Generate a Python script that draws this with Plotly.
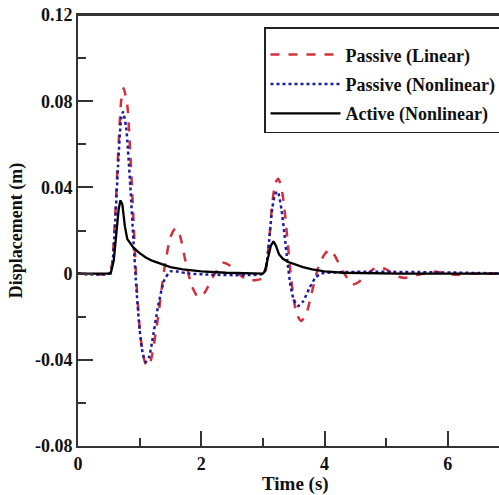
import plotly.graph_objects as go

# Passive (Linear)
t_lin = [0, 0.5, 0.55, 0.6, 0.65, 0.7, 0.74, 0.8, 0.85, 0.9, 0.95, 1.0, 1.05, 1.1, 1.15, 1.2, 1.3, 1.4, 1.5, 1.58, 1.65,
         1.75, 1.85, 1.95, 2.05, 2.2, 2.35, 2.45, 2.6, 2.75, 2.9, 3.0, 3.05, 3.1, 3.15, 3.2, 3.25, 3.3, 3.35, 3.4, 3.45,
         3.5, 3.55, 3.62, 3.7, 3.8, 3.9, 4.0, 4.08, 4.15, 4.3, 4.45, 4.55, 4.7, 4.85, 5.0, 5.15, 5.3, 5.45, 5.6, 5.75,
         5.9, 6.1, 6.4, 7.0]
d_lin = [0, 0, 0.004, 0.025, 0.055, 0.080, 0.086, 0.078, 0.055, 0.025, -0.005, -0.025, -0.037, -0.042, -0.043, -0.038,
         -0.020, 0.002, 0.017, 0.021, 0.018, 0.005, -0.006, -0.011, -0.009, -0.001, 0.005, 0.004, 0.000, -0.003, -0.003,
         -0.002, 0.002, 0.015, 0.032, 0.042, 0.044, 0.040, 0.030, 0.015, 0.000, -0.012, -0.019, -0.022, -0.019, -0.008,
         0.003, 0.009, 0.011, 0.009, 0.001, -0.005, -0.004, 0.000, 0.003, 0.002, -0.001, -0.002, -0.001, 0.000, 0.001,
         0.0005, -0.0005, 0.0, 0.0]

# Passive (Nonlinear)
t_nl = [0, 0.5, 0.55, 0.6, 0.65, 0.7, 0.73, 0.78, 0.85, 0.9, 0.95, 1.0, 1.05, 1.1, 1.15, 1.2, 1.3, 1.4, 1.5, 1.6, 1.8,
        3.0, 3.05, 3.1, 3.15, 3.2, 3.24, 3.3, 3.35, 3.4, 3.45, 3.5, 3.57, 3.65, 3.75, 3.85, 3.95, 7.0]
d_nl = [0, 0, 0.003, 0.022, 0.050, 0.072, 0.075, 0.068, 0.040, 0.015, -0.008, -0.026, -0.037, -0.041, -0.039, -0.032,
        -0.015, -0.003, 0.001, 0.001, 0.0, 0.0, 0.003, 0.015, 0.030, 0.037, 0.038, 0.030, 0.018, 0.005, -0.006, -0.012,
        -0.015, -0.013, -0.007, -0.002, 0.0, 0.0]

# Active (Nonlinear)
t_act = [0, 0.53, 0.58, 0.62, 0.66, 0.69, 0.72, 0.76, 0.8, 0.9, 1.0, 1.1, 1.2, 1.35, 1.5, 1.7, 2.0, 2.4, 2.8, 3.0,
         3.03, 3.08, 3.13, 3.17, 3.21, 3.26, 3.32, 3.4, 3.5, 3.65, 3.8, 4.0, 4.3, 4.8, 5.2, 7.0]
d_act = [0, 0, 0.006, 0.018, 0.030, 0.034, 0.032, 0.022, 0.016, 0.012, 0.0095, 0.0075, 0.006, 0.0045, 0.003, 0.002,
         0.001, 0.0004, 0.0001, 0.0, 0.001, 0.007, 0.013, 0.015, 0.013, 0.009, 0.007, 0.0055, 0.0045, 0.003, 0.002,
         0.001, 0.0004, 0.0001, 0.0, 0.0]

y_tickvals = [-0.08, -0.04, 0, 0.04, 0.08, 0.12]
y_ticktext = ["-0.08", "-0.04", "0", "0.04", "0.08", "0.12"]
x_tickvals = [0, 2, 4, 6]
x_ticktext = ["0", "2", "4", "6"]

FONT = "Liberation Serif"
AX = "#333333"
W, H = 499, 495
L, R, T, B = 78, 0, 15, 49
PW, PH = W - L - R, H - T - B


def px_x(x):
    return (x - L) / PW


def px_y(y):
    return (H - B - y) / PH


fig = go.Figure()
fig.add_trace(go.Scatter(x=t_lin, y=d_lin, mode="lines", name="Passive (Linear)", legendgroup="a",
                         line=dict(color="#d2303c", width=2.5, dash="dash", shape="spline", smoothing=0.6)))
fig.add_trace(go.Scatter(x=t_nl, y=d_nl, mode="lines", name="Passive (Nonlinear)", legendgroup="b",
                         line=dict(color="#1c1ca0", width=2.5, dash="dot", shape="spline", smoothing=0.6)))
fig.add_trace(go.Scatter(x=t_act, y=d_act, mode="lines", name="Active (Nonlinear)", legendgroup="c",
                         line=dict(color="black", width=2.3)))

fig.update_layout(
    width=W, height=H,
    margin=dict(l=L, r=R, t=T, b=B, autoexpand=False),
    plot_bgcolor="white", paper_bgcolor="white",
    font=dict(family=FONT, size=16, color="#111111", weight="bold"),
    showlegend=True,
    legend=dict(x=px_x(264), y=px_y(27), xanchor="left", yanchor="top",
                bordercolor="#222222", borderwidth=1.5, bgcolor="white",
                font=dict(family=FONT, size=18, weight="bold"),
                title=dict(text="&nbsp;", font=dict(size=6)),
                tracegroupgap=3, itemwidth=70),
    xaxis=dict(range=[0, 6.83], tickvals=x_tickvals, ticktext=x_ticktext, automargin=False,
               ticks="inside", ticklen=15, tickwidth=2, tickcolor=AX,
               showline=True, linecolor=AX, linewidth=2, mirror=True,
               showgrid=False, zeroline=False,
               minor=dict(dtick=1, tick0=0, ticks="inside", ticklen=8, tickwidth=2, tickcolor=AX),
               tickfont=dict(family=FONT, size=18, weight="bold")),
    yaxis=dict(range=[-0.08, 0.12], tickvals=y_tickvals, ticktext=y_ticktext, automargin=False,
               ticks="inside", ticklen=15, tickwidth=2, tickcolor=AX,
               showline=True, linecolor=AX, linewidth=2,
               showgrid=False, zeroline=False,
               minor=dict(dtick=0.02, tick0=0, ticks="inside", ticklen=8, tickwidth=2, tickcolor=AX),
               tickfont=dict(family=FONT, size=18, weight="bold"),
               title=dict(text="Displacement (m)", font=dict(family=FONT, size=18, weight="bold"), standoff=8)),
    shapes=[dict(type="line", xref="paper", yref="paper", x0=0, x1=1, y0=1, y1=1,
                 line=dict(color=AX, width=2), layer="above")],
    annotations=[dict(text="Time (s)", x=px_x(295), y=px_y(484), xref="paper", yref="paper",
                      showarrow=False, xanchor="center", yanchor="middle",
                      font=dict(family=FONT, size=19, weight="bold"))],
)

fig.write_html("out.html", config={"displayModeBar": False},
               post_script="document.body.style.margin='0';")
